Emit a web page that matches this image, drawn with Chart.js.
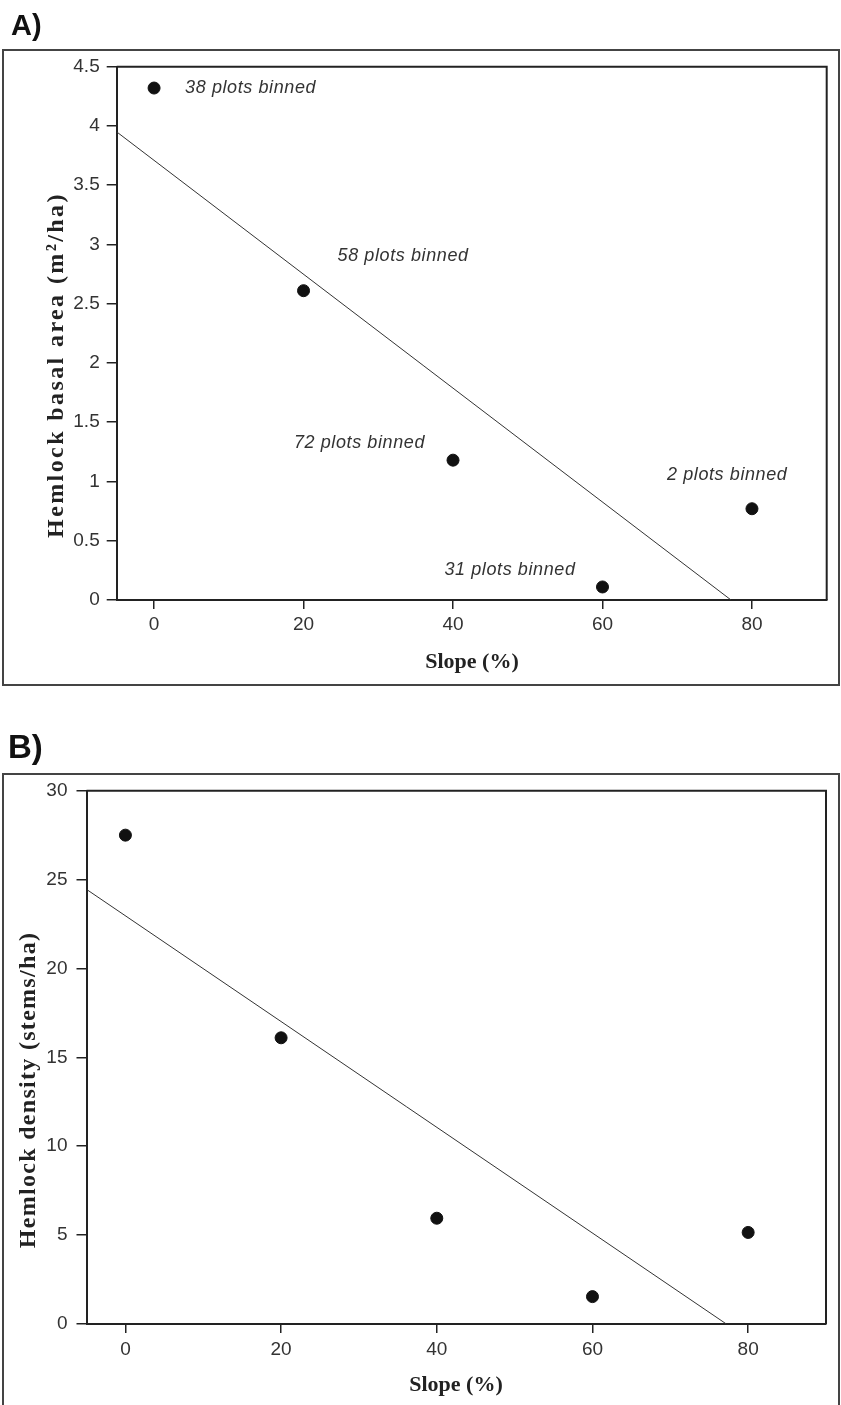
<!DOCTYPE html>
<html>
<head>
<meta charset="utf-8">
<script src="https://cdn.jsdelivr.net/npm/chart.js@4.4.1/dist/chart.umd.min.js"></script>
<style>
  html, body { margin: 0; padding: 0; background: #fff; }
  #wrap { position: relative; width: 841px; height: 1405px; overflow: hidden; }
  canvas { position: absolute; left: 0; }
  #chartA { top: 0; }
  #chartB { top: 700px; }
</style>
</head>
<body>
<div id="wrap">
  <canvas id="chartA" width="841" height="700"></canvas>
  <canvas id="chartB" width="841" height="705"></canvas>
</div>
<script>
// values
const slopeBins = [0, 20, 40, 60, 80];
const basalArea = [4.32, 2.61, 1.18, 0.11, 0.77];
const density = [27.5, 16.1, 5.95, 1.54, 5.15];
const plotsBinned = [38, 58, 72, 31, 2];

// fitted regression lines (end points)
const basalFitX = [-5, 77.2];
const basalFitY = [3.95, 0];
const densityFitX = [-5, 77.2];
const densityFitY = [24.45, 0];

// tick labels
const slopeTicks = [0, 20, 40, 60, 80];
const basalTicks = [0, 0.5, 1, 1.5, 2, 2.5, 3, 3.5, 4, 4.5];
const densityTicks = [0, 5, 10, 15, 20, 25, 30];

const toPoints = (xs, ys) => xs.map((x, i) => ({ x: x, y: ys[i] }));

// draws frame, panel letter, plot box, axis titles and "n plots binned" notes
const panelDecor = {
  id: 'panelDecor',
  afterDraw(chart, args, opts) {
    const ctx = chart.ctx;
    const area = chart.chartArea;
    ctx.save();

    ctx.strokeStyle = '#444';
    ctx.lineWidth = 2;
    ctx.strokeRect(opts.frame[0], opts.frame[1], opts.frame[2], opts.frame[3]);

    ctx.strokeStyle = '#222';
    ctx.lineWidth = 2;
    ctx.beginPath();
    ctx.moveTo(area.left, area.top);
    ctx.lineTo(area.right, area.top);
    ctx.lineTo(area.right, area.bottom);
    ctx.stroke();

    ctx.fillStyle = '#111';
    ctx.font = 'bold ' + opts.letterSize + 'px "Liberation Sans", Arial, sans-serif';
    ctx.textAlign = 'left';
    ctx.textBaseline = 'alphabetic';
    ctx.fillText(opts.letter, opts.letterPos[0], opts.letterPos[1]);

    ctx.fillStyle = '#222';
    ctx.font = 'bold 22px "Liberation Serif", "Times New Roman", serif';
    ctx.textAlign = 'center';
    ctx.textBaseline = 'middle';
    ctx.fillText('Slope (%)', opts.xTitlePos[0], opts.xTitlePos[1]);

    ctx.save();
    ctx.translate(opts.yTitlePos[0], opts.yTitlePos[1]);
    ctx.rotate(-Math.PI / 2);
    ctx.font = 'bold 24px "Liberation Serif", "Times New Roman", serif';
    ctx.letterSpacing = opts.yTitleSpacing + 'px';
    ctx.fillText(opts.yTitle, 0, 0);
    ctx.restore();

    if (opts.notes) {
      const xs = chart.scales.x;
      const ys = chart.scales.y;
      ctx.fillStyle = '#333';
      ctx.font = 'italic 18px "Liberation Sans", Arial, sans-serif';
      ctx.letterSpacing = '0.6px';
      ctx.textBaseline = 'middle';
      opts.notes.forEach((n, i) => {
        const px = xs.getPixelForValue(slopeBins[i]);
        const py = ys.getPixelForValue(basalArea[i]);
        ctx.textAlign = n.align;
        ctx.fillText(plotsBinned[i] + ' plots binned', px + n.dx, py + n.dy);
      });
    }
    ctx.restore();
  }
};

function makeChart(id, pts, fit, yMin, yMax, yTicks, pad, yTickPad, xTickPad, decor) {
  return new Chart(document.getElementById(id).getContext('2d'), {
    type: 'scatter',
    data: {
      datasets: [
        {
          data: pts,
          backgroundColor: '#111',
          borderColor: '#111',
          borderWidth: 1,
          pointRadius: 6,
          pointStyle: 'circle'
        },
        {
          type: 'line',
          data: fit,
          borderColor: '#333',
          borderWidth: 1,
          pointRadius: 0,
          fill: false,
          tension: 0
        }
      ]
    },
    options: {
      responsive: false,
      animation: false,
      events: [],
      layout: { padding: pad },
      plugins: {
        legend: { display: false },
        tooltip: { enabled: false },
        panelDecor: decor
      },
      scales: {
        x: {
          type: 'linear',
          min: -5,
          max: 90,
          afterFit: s => { s.height = 40; },
          afterBuildTicks: s => { s.ticks = slopeTicks.map(v => ({ value: v })); },
          border: { display: true, color: '#222', width: 2 },
          grid: { drawOnChartArea: false, drawTicks: true, tickLength: 9, color: '#222', lineWidth: 1.5 },
          ticks: {
            color: '#333',
            padding: xTickPad,
            maxRotation: 0,
            font: { family: '"Liberation Sans", Arial, sans-serif', size: 19 },
            callback: v => String(v)
          }
        },
        y: {
          type: 'linear',
          min: yMin,
          max: yMax,
          afterFit: s => { s.width = 56; },
          afterBuildTicks: s => { s.ticks = yTicks.map(v => ({ value: v })); },
          border: { display: true, color: '#222', width: 2 },
          grid: { drawOnChartArea: false, drawTicks: true, tickLength: 10, color: '#222', lineWidth: 1.5 },
          ticks: {
            color: '#333',
            padding: yTickPad,
            font: { family: '"Liberation Sans", Arial, sans-serif', size: 19 },
            callback: v => String(v)
          }
        }
      }
    },
    plugins: [panelDecor]
  });
}

makeChart('chartA', toPoints(slopeBins, basalArea), toPoints(basalFitX, basalFitY),
  0, 4.5, basalTicks,
  { left: 60.7, right: 14.3, top: 66.7, bottom: 60 }, 7, 4,
  {
    frame: [3, 50, 836, 635],
    letter: 'A)', letterSize: 29, letterPos: [11, 35],
    xTitlePos: [472, 662],
    yTitle: 'Hemlock basal area (m\u00b2/ha)', yTitlePos: [57, 365], yTitleSpacing: 2.4,
    notes: [
      { dx: 31, dy: 0, align: 'left' },
      { dx: 34, dy: -35, align: 'left' },
      { dx: -28, dy: -17, align: 'right' },
      { dx: -27, dy: -17, align: 'right' },
      { dx: -85, dy: -34, align: 'left' }
    ]
  });

makeChart('chartB', toPoints(slopeBins, density), toPoints(densityFitX, densityFitY),
  0, 30, densityTicks,
  { left: 30.5, right: 15, top: 90.7, bottom: 41 }, 9, 5,
  {
    frame: [3, 74, 836, 720],
    letter: 'B)', letterSize: 33, letterPos: [8, 58],
    xTitlePos: [456, 685],
    yTitle: 'Hemlock density (stems/ha)', yTitlePos: [29, 390], yTitleSpacing: 1.3,
    notes: null
  });
</script>
</body>
</html>
